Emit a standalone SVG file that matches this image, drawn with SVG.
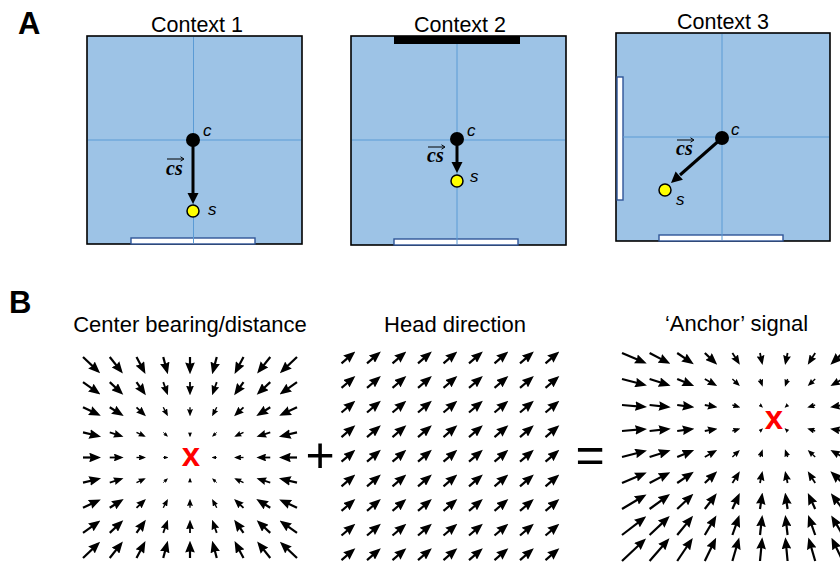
<svg xmlns="http://www.w3.org/2000/svg" width="840" height="566" viewBox="0 0 840 566">
<defs>
<style>
text{font-family:"Liberation Sans",Arial,sans-serif;fill:#000}
.title{font-size:21.5px;text-anchor:middle}
.btitle{font-size:22px;text-anchor:middle}
.panel{font-size:31px;font-weight:bold}
.box{fill:#9DC3E6;stroke:#000;stroke-width:1.6}
.cross{stroke:#5B9BD5;stroke-width:1}
.door{fill:#fff;stroke:#2F5597;stroke-width:1.4}
.bar{fill:#000}
.lbl{font-size:17px;font-style:italic}
.vec{font-family:"Liberation Serif","Times New Roman",serif;font-size:20px;font-weight:bold;font-style:italic}
.ov{stroke:#000;stroke-width:1;fill:none}
.cs{stroke:#000;stroke-width:3}
.head{fill:#000}
.cdot{fill:#000}
.sdot{fill:#FFFF00;stroke:#000;stroke-width:1.5}
.a1,.a2,.a3,.a4{fill:none;stroke:#000;marker-end:url(#h)}
.a1{stroke-width:2.2}
.a2{stroke-width:1.8}
.a3{stroke-width:1.35}
.a4{stroke-width:0.9}
.x{font-size:33px;font-weight:bold;fill:#F00;text-anchor:middle}
.op{font-size:50px;text-anchor:middle}
</style>
<marker id="h" viewBox="0 0 5.4 4.4" refX="3.7" refY="2.2" markerWidth="5.4" markerHeight="4.4" orient="auto" markerUnits="strokeWidth"><path d="M0,0L5.4,2.2L0,4.4L0.6,2.2z" fill="#000"/></marker>
<g id="hdr" class="a1">
<path d="M341.5,363.3l11-9.4"/><path d="M367,363.3l11-9.4"/><path d="M392.5,363.3l11-9.4"/><path d="M418,363.3l11-9.4"/><path d="M443.5,363.3l11-9.4"/><path d="M469,363.3l11-9.4"/><path d="M494.5,363.3l11-9.4"/><path d="M520,363.3l11-9.4"/><path d="M545.5,363.3l11-9.4"/>
</g>
</defs>
<rect width="840" height="566" fill="#fff"/>

<g id="panelA">
<text class="panel" x="18" y="34">A</text>
<g id="context1">
<text class="title" x="197" y="32">Context 1</text>
<rect class="box" x="87" y="36" width="215" height="208"/>
<rect class="door" x="131" y="238" width="124" height="6"/>
<line class="cross" x1="193.5" y1="37" x2="193.5" y2="243"/>
<line class="cross" x1="88" y1="140" x2="301" y2="140"/>
<line class="cs" x1="193" y1="140" x2="193" y2="195"/>
<path class="head" d="M187.5,193L198.5,193L193,204z"/>
<circle class="cdot" cx="193" cy="140" r="7"/>
<circle class="sdot" cx="193" cy="211" r="6"/>
<text class="lbl" x="203" y="136">c</text>
<text class="lbl" x="208" y="215">s</text>
<text class="vec" x="166" y="175">cs</text>
<path class="ov" d="M167,159h16M180.5,156.8l3.5,2.2l-3.5,2.2"/>
</g>
<g id="context2">
<text class="title" x="460" y="32">Context 2</text>
<rect class="box" x="351" y="36" width="215" height="209"/>
<rect class="bar" x="394" y="36" width="126" height="8"/>
<rect class="door" x="394" y="239" width="124" height="6"/>
<line class="cross" x1="457" y1="44" x2="457" y2="244"/>
<line class="cross" x1="352" y1="140" x2="565" y2="140"/>
<line class="cs" x1="457" y1="139" x2="457" y2="164"/>
<path class="head" d="M451.5,162L462.5,162L457,173z"/>
<circle class="cdot" cx="457" cy="139" r="7"/>
<circle class="sdot" cx="457" cy="181" r="6"/>
<text class="lbl" x="467" y="136">c</text>
<text class="lbl" x="470" y="182">s</text>
<text class="vec" x="427" y="162">cs</text>
<path class="ov" d="M428,147h16M441.5,144.8l3.5,2.2l-3.5,2.2"/>
</g>
<g id="context3">
<text class="title" x="723" y="29">Context 3</text>
<rect class="box" x="616" y="33" width="214" height="208"/>
<rect class="door" x="617" y="77" width="6" height="123"/>
<rect class="door" x="659" y="235" width="124" height="6"/>
<line class="cross" x1="722" y1="34" x2="722" y2="240"/>
<line class="cross" x1="623" y1="137" x2="829" y2="137"/>
<line class="cs" x1="722" y1="138" x2="680" y2="175"/>
<path class="head" d="M682.9,179.8L675.6,171.6L671,183z"/>
<circle class="cdot" cx="722" cy="138" r="7"/>
<circle class="sdot" cx="665" cy="190" r="6"/>
<text class="lbl" x="731" y="135">c</text>
<text class="lbl" x="676" y="205">s</text>
<text class="vec" x="676" y="155">cs</text>
<path class="ov" d="M677,140h16M690.5,137.8l3.5,2.2l-3.5,2.2"/>
</g>
</g>

<g id="panelB">
<text class="panel" x="9" y="313">B</text>
<g id="centerField">
<text class="btitle" x="190" y="332">Center bearing/distance</text>
<g class="a1">
<path d="M83,357l14.4,13.6"/><path d="M109.75,357l10.8,13.6"/><path d="M136.5,357l7.2,13.6"/><path d="M163.25,357l3.6,13.6"/><path d="M190,357l0,13.6"/><path d="M216.75,357l-3.6,13.6"/><path d="M243.5,357l-7.2,13.6"/><path d="M270.25,357l-10.8,13.6"/><path d="M297,357l-14.4,13.6"/>
<path d="M83,382.1l14.4,10.2"/><path d="M109.75,382.1l10.8,10.2"/><path d="M136.5,382.1l7.2,10.2"/><path d="M243.5,382.1l-7.2,10.2"/><path d="M270.25,382.1l-10.8,10.2"/><path d="M297,382.1l-14.4,10.2"/>
<path d="M83,407.3l14.4,6.8"/><path d="M109.75,407.3l10.8,6.8"/><path d="M270.25,407.3l-10.8,6.8"/><path d="M297,407.3l-14.4,6.8"/>
<path d="M83,432.4l14.4,3.4"/><path d="M297,432.4l-14.4,3.4"/>
<path d="M83,457.5l14.4,0"/><path d="M297,457.5l-14.4,0"/>
<path d="M83,482.6l14.4,-3.4"/><path d="M297,482.6l-14.4,-3.4"/>
<path d="M83,507.8l14.4,-6.8"/><path d="M109.75,507.8l10.8,-6.8"/><path d="M270.25,507.8l-10.8,-6.8"/><path d="M297,507.8l-14.4,-6.8"/>
<path d="M83,532.9l14.4,-10.2"/><path d="M109.75,532.9l10.8,-10.2"/><path d="M136.5,532.9l7.2,-10.2"/><path d="M243.5,532.9l-7.2,-10.2"/><path d="M270.25,532.9l-10.8,-10.2"/><path d="M297,532.9l-14.4,-10.2"/>
<path d="M83,558l14.4,-13.6"/><path d="M109.75,558l10.8,-13.6"/><path d="M136.5,558l7.2,-13.6"/><path d="M163.25,558l3.6,-13.6"/><path d="M190,558l0,-13.6"/><path d="M216.75,558l-3.6,-13.6"/><path d="M243.5,558l-7.2,-13.6"/><path d="M270.25,558l-10.8,-13.6"/><path d="M297,558l-14.4,-13.6"/>
</g>
<g class="a2">
<path d="M163.25,382.1l3.6,10.2"/><path d="M190,382.1l0,10.2"/><path d="M216.75,382.1l-3.6,10.2"/>
<path d="M136.5,407.3l7.2,6.8"/><path d="M243.5,407.3l-7.2,6.8"/>
<path d="M109.75,432.4l10.8,3.4"/><path d="M270.25,432.4l-10.8,3.4"/>
<path d="M109.75,457.5l10.8,0"/><path d="M270.25,457.5l-10.8,0"/>
<path d="M109.75,482.6l10.8,-3.4"/><path d="M270.25,482.6l-10.8,-3.4"/>
<path d="M136.5,507.8l7.2,-6.8"/><path d="M243.5,507.8l-7.2,-6.8"/>
<path d="M163.25,532.9l3.6,-10.2"/><path d="M190,532.9l0,-10.2"/><path d="M216.75,532.9l-3.6,-10.2"/>
</g>
<g class="a3">
<path d="M163.25,407.3l3.6,6.8"/><path d="M190,407.3l0,6.8"/><path d="M216.75,407.3l-3.6,6.8"/>
<path d="M136.5,432.4l7.2,3.4"/><path d="M243.5,432.4l-7.2,3.4"/>
<path d="M136.5,457.5l7.2,0"/><path d="M243.5,457.5l-7.2,0"/>
<path d="M136.5,482.6l7.2,-3.4"/><path d="M243.5,482.6l-7.2,-3.4"/>
<path d="M163.25,507.8l3.6,-6.8"/><path d="M190,507.8l0,-6.8"/><path d="M216.75,507.8l-3.6,-6.8"/>
</g>
<g class="a4">
<path d="M163.25,432.4l3.6,3.4"/><path d="M190,432.4l0,3.4"/><path d="M216.75,432.4l-3.6,3.4"/>
<path d="M163.25,457.5l3.6,0"/><path d="M216.75,457.5l-3.6,0"/>
<path d="M163.25,482.6l3.6,-3.4"/><path d="M190,482.6l0,-3.4"/><path d="M216.75,482.6l-3.6,-3.4"/>
</g>
<text class="x" x="191" y="466">x</text>
</g>

<text class="op" x="320" y="472">+</text>

<g id="headDirectionField">
<text class="btitle" x="455" y="332">Head direction</text>
<use href="#hdr"/>
<use href="#hdr" y="24.6"/>
<use href="#hdr" y="49.2"/>
<use href="#hdr" y="73.8"/>
<use href="#hdr" y="98.4"/>
<use href="#hdr" y="123"/>
<use href="#hdr" y="147.6"/>
<use href="#hdr" y="172.2"/>
<use href="#hdr" y="196.8"/>
</g>

<text class="op" x="590" y="472">=</text>

<g id="anchorField">
<text class="btitle" x="736.5" y="331">‘Anchor’ signal</text>
<g class="a1">
<path d="M622,353l21.3,9.1"/><path d="M649.6,353l17.4,9.1"/><path d="M677.2,353l13.5,9.1"/><path d="M704.8,353l9.7,9.1"/><path d="M842.8,353l-9.7,9.1"/>
<path d="M622,379l21.3,5.5"/><path d="M649.6,379l17.4,5.5"/><path d="M677.2,379l13.5,5.5"/>
<path d="M622,405l21.3,1.8"/><path d="M649.6,405l17.4,1.8"/><path d="M677.2,405l13.5,1.8"/>
<path d="M622,431l21.3,-1.8"/><path d="M649.6,431l17.4,-1.8"/><path d="M677.2,431l13.5,-1.8"/>
<path d="M622,457l21.3,-5.5"/><path d="M649.6,457l17.4,-5.5"/><path d="M677.2,457l13.5,-5.5"/>
<path d="M622,483l21.3,-9.1"/><path d="M649.6,483l17.4,-9.1"/><path d="M677.2,483l13.5,-9.1"/><path d="M704.8,483l9.7,-9.1"/><path d="M842.8,483l-9.7,-9.1"/>
<path d="M622,509l21.3,-12.7"/><path d="M649.6,509l17.4,-12.7"/><path d="M677.2,509l13.5,-12.7"/><path d="M704.8,509l9.7,-12.7"/><path d="M732.4,509l5.8,-12.7"/><path d="M760,509l1.9,-12.7"/><path d="M787.6,509l-1.9,-12.7"/><path d="M815.2,509l-5.8,-12.7"/><path d="M842.8,509l-9.7,-12.7"/>
<path d="M622,535l21.3,-16.4"/><path d="M649.6,535l17.4,-16.4"/><path d="M677.2,535l13.5,-16.4"/><path d="M704.8,535l9.7,-16.4"/><path d="M732.4,535l5.8,-16.4"/><path d="M760,535l1.9,-16.4"/><path d="M787.6,535l-1.9,-16.4"/><path d="M815.2,535l-5.8,-16.4"/><path d="M842.8,535l-9.7,-16.4"/>
<path d="M622,561l21.3,-20"/><path d="M649.6,561l17.4,-20"/><path d="M677.2,561l13.5,-20"/><path d="M704.8,561l9.7,-20"/><path d="M732.4,561l5.8,-20"/><path d="M760,561l1.9,-20"/><path d="M787.6,561l-1.9,-20"/><path d="M815.2,561l-5.8,-20"/><path d="M842.8,561l-9.7,-20"/>
</g>
<g class="a2">
<path d="M732.4,353l5.8,9.1"/><path d="M760,353l1.9,9.1"/><path d="M787.6,353l-1.9,9.1"/><path d="M815.2,353l-5.8,9.1"/>
<path d="M704.8,379l9.7,5.5"/><path d="M842.8,379l-9.7,5.5"/>
<path d="M704.8,405l9.7,1.8"/><path d="M842.8,405l-9.7,1.8"/>
<path d="M704.8,431l9.7,-1.8"/><path d="M842.8,431l-9.7,-1.8"/>
<path d="M704.8,457l9.7,-5.5"/><path d="M842.8,457l-9.7,-5.5"/>
<path d="M732.4,483l5.8,-9.1"/><path d="M760,483l1.9,-9.1"/><path d="M787.6,483l-1.9,-9.1"/><path d="M815.2,483l-5.8,-9.1"/>
</g>
<g class="a3">
<path d="M732.4,379l5.8,5.5"/><path d="M760,379l1.9,5.5"/><path d="M787.6,379l-1.9,5.5"/><path d="M815.2,379l-5.8,5.5"/>
<path d="M732.4,405l5.8,1.8"/><path d="M815.2,405l-5.8,1.8"/>
<path d="M732.4,431l5.8,-1.8"/><path d="M815.2,431l-5.8,-1.8"/>
<path d="M732.4,457l5.8,-5.5"/><path d="M760,457l1.9,-5.5"/><path d="M787.6,457l-1.9,-5.5"/><path d="M815.2,457l-5.8,-5.5"/>
</g>
<g class="a4">
<path d="M760,405l1.9,1.8"/><path d="M787.6,405l-1.9,1.8"/>
<path d="M760,431l1.9,-1.8"/><path d="M787.6,431l-1.9,-1.8"/>
</g>
<text class="x" x="774" y="429">x</text>
</g>
</g>
</svg>
